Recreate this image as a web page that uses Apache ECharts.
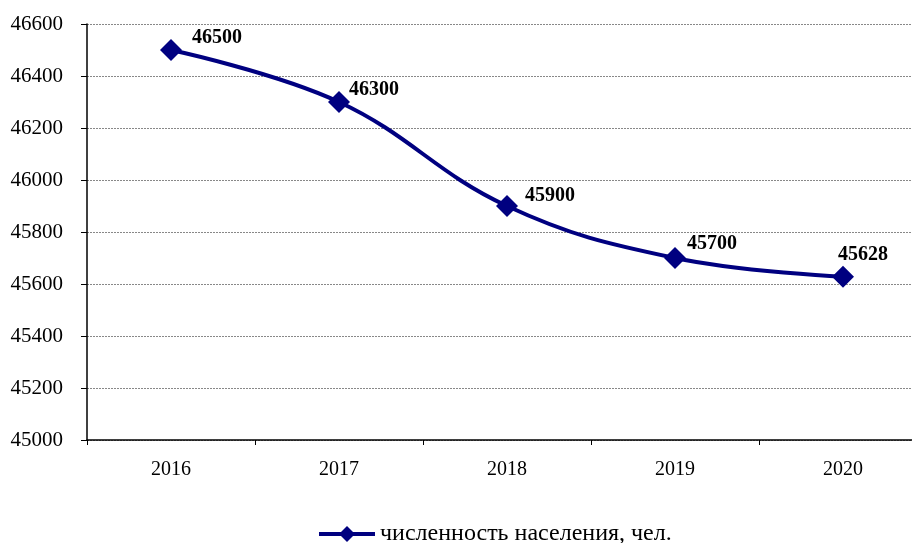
<!DOCTYPE html>
<html>
<head>
<meta charset="utf-8">
<script src="https://cdn.jsdelivr.net/npm/echarts@6/dist/echarts.min.js"></script>
<style>
	html, body { margin: 0; padding: 0; background: #fff; overflow: hidden; }
	#chart { width: 940px; height: 543px; }
</style>
</head>
<body>
<div id="chart"></div>
<script>
	var years = ['2016', '2017', '2018', '2019', '2020'];
	var population = [46500, 46300, 45900, 45700, 45628];
	var seriesName = 'численность населения, чел.';

	// подписи точек: сдвиг от маркера
	var labelPlace = [
		{ position: 'right', offset: [5, -12] },
		{ position: 'right', offset: [-6, -12] },
		{ position: 'right', offset: [2, -10] },
		{ position: 'right', offset: [-4, -14] },
		{ position: 'top', offset: [20, 4] }
	];

	var serif = '"Liberation Serif", "Times New Roman", serif';
	var myChart = echarts.init(document.getElementById('chart'));

	myChart.setOption({
		animation: false,
		textStyle: { fontFamily: serif },
		// правый край графика обрезан, как в исходнике
		grid: { left: 87, top: 24, width: 840, height: 416, containLabel: false },
		legend: {
			data: [seriesName],
			left: 317,
			top: 522,
			padding: 0,
			itemWidth: 56,
			itemHeight: 20,
			itemGap: 5,
			lineStyle: { width: 4 },
			textStyle: { fontFamily: serif, fontSize: 24, color: '#000' }
		},
		xAxis: {
			type: 'category',
			data: years,
			boundaryGap: true,
			axisLine: { lineStyle: { color: '#000', width: 1.5 } },
			axisTick: { show: true, length: 5, lineStyle: { color: '#000' } },
			axisLabel: { margin: 20, fontSize: 20, color: '#000', fontFamily: serif }
		},
		yAxis: {
			type: 'value',
			min: 45000,
			max: 46600,
			interval: 200,
			axisLine: { show: true, lineStyle: { color: '#000', width: 1.5 } },
			axisTick: { show: true, length: 6, lineStyle: { color: '#000' } },
			axisLabel: {
				margin: 24, fontSize: 21, color: '#000', fontFamily: serif,
				formatter: function (v) { return String(v); }
			},
			splitLine: { lineStyle: { color: '#888', width: 1, type: [2, 1] } }
		},
		series: [{
			name: seriesName,
			type: 'line',
			smooth: 0.4,
			symbol: 'diamond',
			symbolSize: 22,
			lineStyle: { color: '#000080', width: 4 },
			itemStyle: { color: '#000080' },
			label: {
				show: true,
				fontSize: 20,
				fontWeight: 'bold',
				color: '#000',
				fontFamily: serif
			},
			data: population.map(function (v, i) {
				return { value: v, label: labelPlace[i] };
			})
		}]
	});
</script>
</body>
</html>
